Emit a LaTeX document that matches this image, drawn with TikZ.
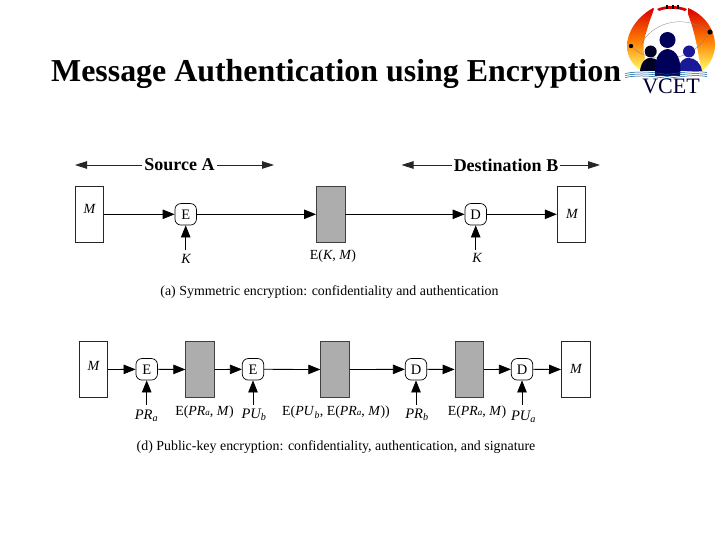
\documentclass[tikz,border=0pt]{standalone}
\usepackage{fontspec}
\setmainfont{Liberation Serif}
\usetikzlibrary{arrows.meta,shadings}
\tikzset{
  x=1pt,y=-1pt,
  conn/.style={draw=black,line width=0.8pt,-{Triangle[length=12pt,width=9.5pt]}},
  spanline/.style={draw=black!85,line width=0.8pt,-{Triangle[length=12pt,width=7.5pt]}},
  msgbox/.style={draw=black!85,fill=white,line width=0.9pt,minimum width=28.5pt,minimum height=56.5pt,inner sep=0pt},
  cipher/.style={draw=black!75,fill=black!32,line width=0.9pt,minimum width=28.5pt,minimum height=56.5pt,inner sep=0pt},
  opnode/.style={draw=black,fill=white,line width=0.7pt,rounded corners=6pt,minimum width=21.5pt,minimum height=21.5pt,inner sep=0pt,font=\fontsize{14.5}{14.5}\selectfont},
  lab/.style={inner sep=0pt,font=\fontsize{13.9}{15}\selectfont},
  keylab/.style={inner sep=0pt,font=\fontsize{14.5}{15}\selectfont\itshape},
  msglab/.style={inner sep=0pt,font=\fontsize{14}{15}\selectfont\itshape},
  captext/.style={inner sep=0pt,font=\fontsize{13.9}{15}\selectfont},
  headtext/.style={inner xsep=2pt,inner ysep=0pt,font=\fontsize{18}{20}\selectfont\bfseries}
}
\begin{document}
\begin{tikzpicture}
\useasboundingbox (0,0) rectangle (720,540);
\fill[white] (0,0) rectangle (720,540);
% Logo
\begin{scope}
  \path[shade,top color=red!85!black,bottom color=yellow!60!white,middle color=orange!95!red]
    (653,8) .. controls (637,17) and (627,32) .. (627,46) .. controls (627,57) and (633,66) .. (642,71)
    -- (645,58) .. controls (642,48) and (644,38) .. (647,30) .. controls (649,22) and (652,15) .. (654,9) -- cycle;
  \path[shade,top color=red!85!black,bottom color=yellow!60!white,middle color=orange!95!red]
    (688,8) .. controls (705,15) and (715,30) .. (715,45) .. controls (715,56) and (709,66) .. (702,71)
    -- (699,58) .. controls (697,45) and (694,30) .. (688,14) -- cycle;
  \fill[red!85!black] (657,9) .. controls (665,5) and (678,5) .. (687,9) -- (685,11) .. controls (677,8) and (666,8) .. (659,11) -- cycle;
  \foreach \mx in {666,671.5,677} \fill[black] (\mx,5) rectangle +(2,4);
  \draw[black!50,line width=0.3pt] (641,45) .. controls (650,25) and (680,12) .. (709,31);
  \draw[black!50,line width=0.3pt] (632,46) .. controls (640,60) and (690,70) .. (709,32);
  \fill[black] (631,46) circle (2.2);
  \fill[black] (710,32) circle (2.6);
  \fill[black!85!blue] (650.7,51.5) circle (6);
  \fill[black!85!blue] (640,71) .. controls (641,62) and (646,57) .. (651,58) .. controls (657,58) and (661,63) .. (662,71) -- cycle;
  \fill[blue!55!black!90] (689,51.5) circle (6);
  \fill[blue!55!black!90] (678,71) .. controls (679,62) and (684,57) .. (689,58) .. controls (695,58) and (701,63) .. (702,71) -- cycle;
  \fill[blue!35!black] (667.5,40) circle (8);
  \fill[blue!35!black] (655,76) .. controls (654,60) and (658,50) .. (667.5,49) .. controls (677,50) and (682,60) .. (680,76) -- cycle;
  \foreach \wy in {72.5,74.5,76.5}
    \draw[blue!45!cyan!60!black,line width=0.5pt] (625,\wy+1) .. controls (640,\wy-2) and (655,\wy) .. (667,\wy+2) .. controls (680,\wy) and (695,\wy-2) .. (707,\wy);
  \node[inner sep=0pt,font=\fontsize{22}{22}\selectfont,text=blue!20!black] (vcet) at (671,86) {VCET};
\end{scope}
% Title
\node[inner sep=0pt,font=\fontsize{31.9}{34}\selectfont\bfseries,anchor=base west] (title) at (51,82) {Message Authentication using Encryption};
% Panel (a)
\node[headtext] (srcA) at (179.5,165) {Source A};
\node[headtext] (dstB) at (506,165) {Destination B};
\coordinate (sl) at (75,165); \coordinate (sr) at (274,165);
\coordinate (dl) at (401.5,165); \coordinate (dr) at (600,165);
\draw[spanline] (srcA) -- (sl);
\draw[spanline] (srcA) -- (sr);
\draw[spanline] (dstB) -- (dl);
\draw[spanline] (dstB) -- (dr);
\node[msgbox] (m1) at (89.5,214.3) {};
\node[msglab] (m1t) at (89.5,209) {M};
\node[opnode] (e1) at (185.7,214.3) {E};
\node[cipher] (c1) at (330.7,214.3) {};
\node[opnode] (d1) at (475.7,214.3) {D};
\node[msgbox] (m2) at (571.5,214.3) {};
\node[msglab] (m2t) at (572,213.5) {M};
\draw[conn] (m1) -- (e1);
\draw[conn] (e1) -- (c1);
\draw[conn] (c1) -- (d1);
\draw[conn] (d1) -- (m2);
\coordinate (k1s) at (185.7,250); \coordinate (k2s) at (475.7,250);
\draw[conn] (k1s) -- (e1);
\draw[conn] (k2s) -- (d1);
\node[msglab] (k1) at (186,259) {K};
\node[msglab] (k2) at (477,257.5) {K};
\node[lab] (ekm) at (333,256.5) {E(\textit{K}, \textit{M})};
\node[captext] (capa) at (329.5,292) {(a) Symmetric encryption: confidentiality and authentication};
% Panel (d)
\node[msgbox] (m3) at (93.5,369.5) {};
\node[msglab] (m3t) at (93.5,365.5) {M};
\node[opnode] (e2) at (146.7,369.3) {E};
\node[cipher] (c2) at (200,369.5) {};
\node[opnode] (e3) at (253,369.3) {E};
\node[cipher] (c3) at (335,369.5) {};
\node[opnode] (d2) at (416,369.3) {D};
\node[cipher] (c4) at (469.3,369.5) {};
\node[opnode] (d3) at (522,369.3) {D};
\node[msgbox] (m4) at (575.7,369.5) {};
\node[msglab] (m4t) at (576,368.5) {M};
\draw[conn] (m3) -- (e2);
\draw[conn] (e2) -- (c2);
\draw[conn] (c2) -- (e3);
\draw[conn] (e3) -- (c3);
\draw[conn] (c3) -- (d2);
\draw[conn] (d2) -- (c4);
\draw[conn] (c4) -- (d3);
\draw[conn] (d3) -- (m4);
\coordinate (p1) at (146.7,405); \coordinate (p2) at (253,405);
\coordinate (p3) at (416,405); \coordinate (p4) at (522,405);
\draw[conn] (p1) -- (e2);
\draw[conn] (p2) -- (e3);
\draw[conn] (p3) -- (d2);
\draw[conn] (p4) -- (d3);
\node[keylab] (pra) at (146.5,415.5) {PR\textsubscript{a}};
\node[keylab] (pub) at (254,415) {PU\textsubscript{b}};
\node[keylab] (prb) at (417,415) {PR\textsubscript{b}};
\node[keylab] (pua) at (523.5,416.5) {PU\textsubscript{a}};
\node[lab] (l1) at (204.5,412.5) {E(\textit{PR}{\small\textit{a}}, \textit{M})};
\node[lab] (l2) at (336,412.5) {E(\textit{PU}\textsubscript{\textit{b}}, E(\textit{PR}{\small\textit{a}}, \textit{M}))};
\node[lab] (l3) at (477,412.5) {E(\textit{PR}{\small\textit{a}}, \textit{M})};
\node[captext] (capd) at (336,447) {(d) Public-key encryption: confidentiality, authentication, and signature};
\end{tikzpicture}
\end{document}
